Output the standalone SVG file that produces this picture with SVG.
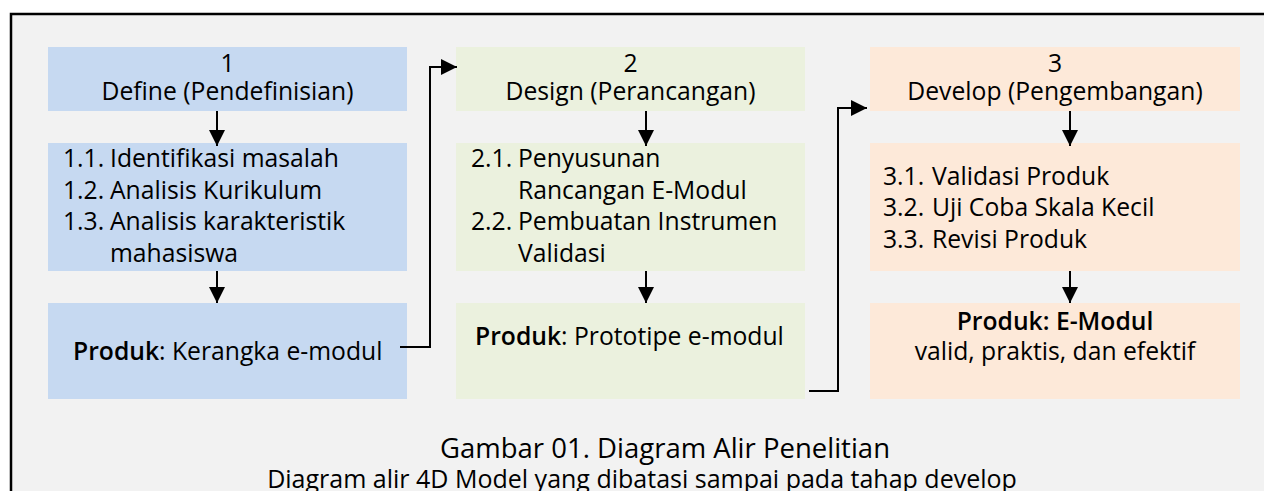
<svg xmlns="http://www.w3.org/2000/svg" width="1264" height="491" viewBox="0 0 1264 491">
  <style>
    .t { font-family: "Open Sans", Lato, sans-serif; font-size: 24.7px; fill: #000; }
    .c { text-anchor: middle; }
    .b { font-weight: 600; }
    .cap1 { font-family: "Open Sans", Lato, sans-serif; font-size: 27.5px; fill: #000; }
    .cap2 { font-family: "Open Sans", Lato, sans-serif; font-size: 25px; fill: #000; }
    .blue { fill: #c6d9f1; }
    .green { fill: #ebf1de; }
    .peach { fill: #fde9d9; }
    .wire { fill: none; stroke: #000; stroke-width: 2; }
  </style>
  <defs>
    <marker id="head" markerUnits="userSpaceOnUse" markerWidth="16" markerHeight="16" viewBox="0 0 16 16" refX="16" refY="8" orient="auto">
      <path d="M0,0 L16,8 L0,16 Z" fill="#000"/>
    </marker>
  </defs>

  <rect x="0" y="0" width="1264" height="491" fill="#fff"/>
  <rect x="11" y="14" width="1270" height="490" fill="#f2f2f2" stroke="#000" stroke-width="2.5"/>

  <!-- Stage 1: Define -->
  <g id="define-head">
    <rect class="blue" x="48" y="47" width="359" height="64"/>
    <text class="t c" x="227.5" y="72">1</text>
    <text class="t c" x="227.5" y="100">Define (Pendefinisian)</text>
  </g>
  <g id="define-steps">
    <rect class="blue" x="48" y="143" width="359" height="128"/>
    <text class="t" x="63" y="167">1.1.</text><text class="t" x="110" y="167">Identifikasi masalah</text>
    <text class="t" x="63" y="199">1.2.</text><text class="t" x="110" y="199">Analisis Kurikulum</text>
    <text class="t" x="63" y="230">1.3.</text><text class="t" x="110" y="230">Analisis karakteristik</text>
    <text class="t" x="110" y="262">mahasiswa</text>
  </g>
  <g id="define-product">
    <rect class="blue" x="48" y="303" width="359" height="96"/>
    <text class="t" x="73" y="360"><tspan class="b">Produk</tspan>: Kerangka e-modul</text>
  </g>

  <!-- Stage 2: Design -->
  <g id="design-head">
    <rect class="green" x="456" y="47" width="349" height="64"/>
    <text class="t c" x="630.5" y="72">2</text>
    <text class="t c" x="630.5" y="100">Design (Perancangan)</text>
  </g>
  <g id="design-steps">
    <rect class="green" x="456" y="143" width="349" height="128"/>
    <text class="t" x="471" y="167">2.1.</text><text class="t" x="518" y="167">Penyusunan</text>
    <text class="t" x="518" y="199">Rancangan E-Modul</text>
    <text class="t" x="471" y="230">2.2.</text><text class="t" x="518" y="230">Pembuatan Instrumen</text>
    <text class="t" x="518" y="262">Validasi</text>
  </g>
  <g id="design-product">
    <rect class="green" x="456" y="303" width="349" height="96"/>
    <text class="t" x="475" y="345"><tspan class="b">Produk</tspan>: Prototipe e-modul</text>
  </g>

  <!-- Stage 3: Develop -->
  <g id="develop-head">
    <rect class="peach" x="870" y="47" width="370" height="64"/>
    <text class="t c" x="1055" y="72">3</text>
    <text class="t c" x="1055" y="100">Develop (Pengembangan)</text>
  </g>
  <g id="develop-steps">
    <rect class="peach" x="870" y="143" width="370" height="128"/>
    <text class="t" x="883" y="185">3.1.</text><text class="t" x="932" y="185">Validasi Produk</text>
    <text class="t" x="883" y="216">3.2.</text><text class="t" x="932" y="216">Uji Coba Skala Kecil</text>
    <text class="t" x="883" y="248">3.3.</text><text class="t" x="932" y="248">Revisi Produk</text>
  </g>
  <g id="develop-product">
    <rect class="peach" x="870" y="303" width="370" height="96"/>
    <text class="t c b" x="1055" y="330">Produk: E-Modul</text>
    <text class="t c" x="1055" y="360">valid, praktis, dan efektif</text>
  </g>

  <!-- Connectors -->
  <g id="connectors">
    <path class="wire" d="M217,111 V146" marker-end="url(#head)"/>
    <path class="wire" d="M217,271 V303" marker-end="url(#head)"/>
    <path class="wire" d="M646,111 V146" marker-end="url(#head)"/>
    <path class="wire" d="M646,271 V303" marker-end="url(#head)"/>
    <path class="wire" d="M1070,111 V146" marker-end="url(#head)"/>
    <path class="wire" d="M1070,271 V303" marker-end="url(#head)"/>
    <path class="wire" d="M400,347 H430 V67 H457" marker-end="url(#head)"/>
    <path class="wire" d="M809,391 H838 V108 H867" marker-end="url(#head)"/>
  </g>

  <!-- Caption -->
  <g id="caption">
    <text class="cap1 c" x="665" y="458">Gambar 01. Diagram Alir Penelitian</text>
    <text class="cap2 c" x="642" y="488">Diagram alir 4D Model yang dibatasi sampai pada tahap develop</text>
  </g>
</svg>
